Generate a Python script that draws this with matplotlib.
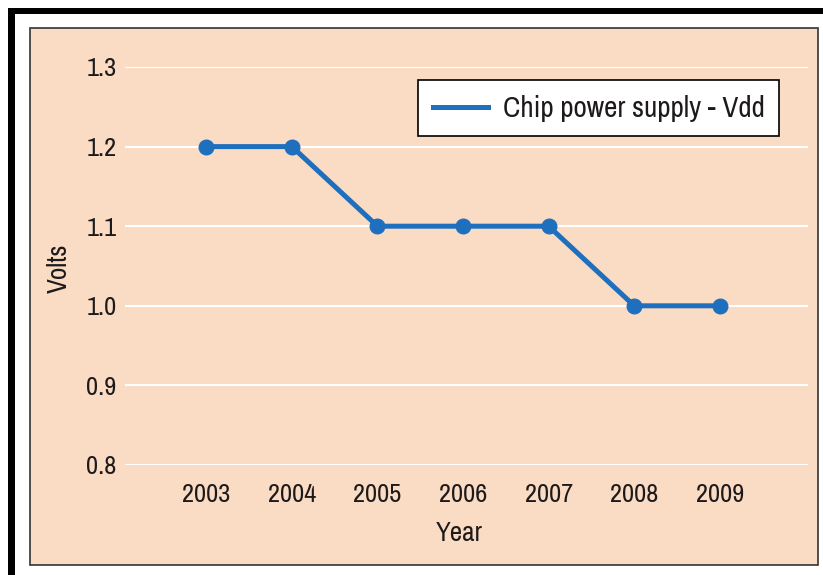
import numpy as np
import matplotlib.pyplot as plt
from matplotlib.patches import Rectangle

years = [2003, 2004, 2005, 2006, 2007, 2008, 2009]
vdd = [1.2, 1.2, 1.1, 1.1, 1.1, 1.0, 1.0]
yticks = [0.8, 0.9, 1.0, 1.1, 1.2, 1.3]

peach = '#f9dcc3'
blue = '#1f6fbf'
ink = '#1e1a1b'
plt.rcParams['font.family'] = ['Archivo Narrow', 'Liberation Sans Narrow', 'DejaVu Sans']

W, H = 823, 575
fig = plt.figure(figsize=(W / 100, H / 100), dpi=100)
fig.patch.set_facecolor('white')

# frame decorations: thick black bars at top/left, peach panel with thin border
def px_rect(x0, y0, x1, y1, **kw):
    fig.patches.append(Rectangle((x0 / W, 1 - y1 / H), (x1 - x0) / W, (y1 - y0) / H,
                                 transform=fig.transFigure, figure=fig, zorder=-5, **kw))

px_rect(8, 8, 823, 14, facecolor='black', edgecolor='none')
px_rect(8, 8, 15, 575, facecolor='black', edgecolor='none')
px_rect(30, 28, 818, 565, facecolor=peach, edgecolor='#333333', linewidth=1.2)

ax = fig.add_axes([125 / W, 1 - 465 / H, (808 - 125) / W, (465 - 67) / H])
ax.set_facecolor('none')
for s in ax.spines.values():
    s.set_visible(False)

ax.set_xlim(2002.05, 2010.03)
ax.set_ylim(0.8, 1.3)
ax.set_yticks(yticks)
ax.set_yticklabels(['%.1f' % v for v in yticks])
ax.set_xticks(years)
ax.set_xticklabels([str(y) for y in years])
ax.tick_params(axis='both', length=0, labelsize=19, colors=ink)
ax.tick_params(axis='y', pad=6)
ax.tick_params(axis='x', pad=13)
ax.yaxis.grid(True, color='white', linewidth=1.5)
ax.set_axisbelow(True)

ax.plot(years, vdd, '-o', color=blue, linewidth=3.6, markersize=10.5,
        label='Chip power supply - Vdd', zorder=3, clip_on=False)

ax.set_xlabel('Year', fontsize=19.5, color=ink)
ax.set_ylabel('Volts', fontsize=19.5, color=ink)
ax.xaxis.set_label_coords(0.49, -0.14)
ax.yaxis.set_label_coords(-0.078, 0.495)

leg = ax.legend(loc='upper left', bbox_to_anchor=(0.429, 0.967), borderaxespad=0,
                fancybox=False, framealpha=1, edgecolor='black', fontsize=21,
                handlelength=1.9, borderpad=0.5, handletextpad=0.5)
leg.get_frame().set_linewidth(1.2)
for t in leg.get_texts():
    t.set_color(ink)
for h in leg.legend_handles:
    h.set_marker('')

fig.savefig('out.png', dpi=100)
